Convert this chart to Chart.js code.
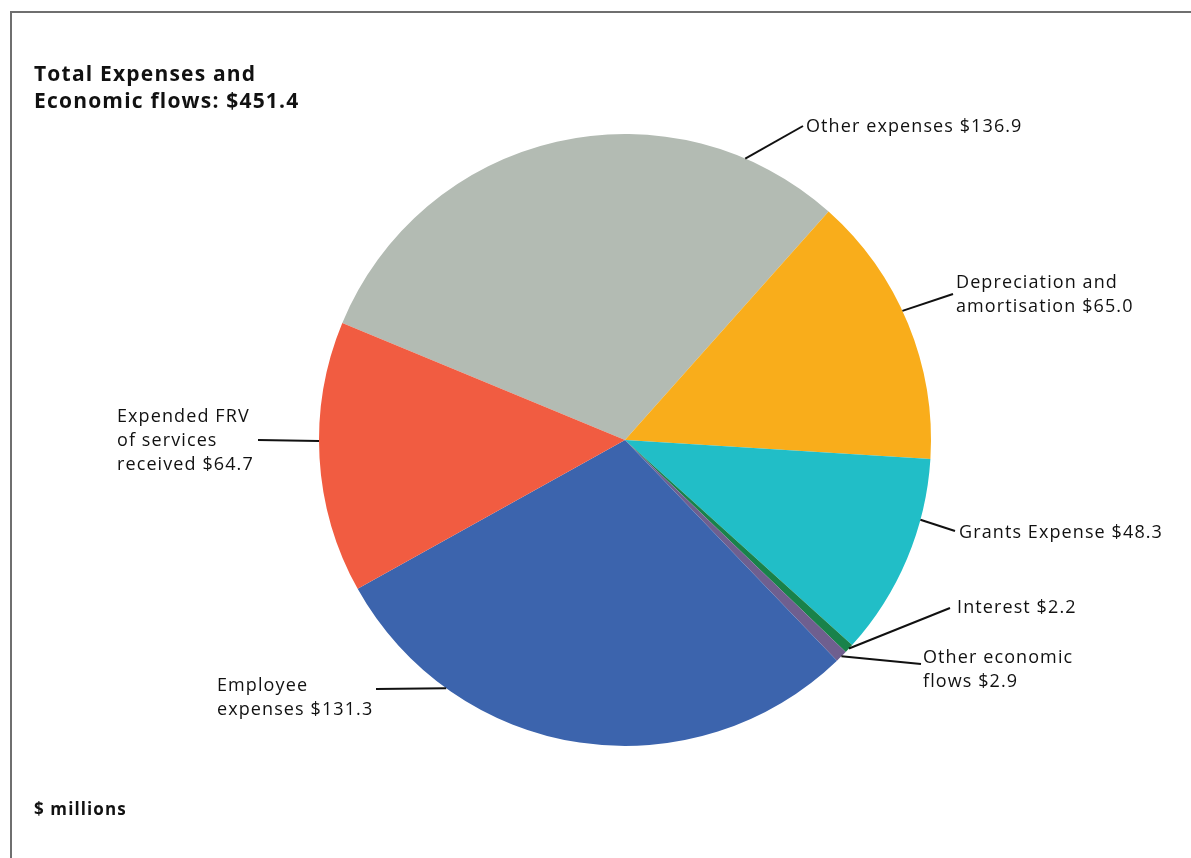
<!DOCTYPE html>
<html>
<head>
<meta charset="utf-8">
<script src="https://cdn.jsdelivr.net/npm/chart.js@4.4.1/dist/chart.umd.min.js"></script>
<style>
  html, body { margin: 0; padding: 0; background: #fff; }
  body { width: 1191px; height: 858px; position: relative; overflow: hidden; font-family: "Open Sans", sans-serif; color: #111; }
  #frame { position: absolute; left: 10px; top: 11px; right: -10px; bottom: -10px; border-top: 2px solid #6f6f6f; border-left: 2px solid #6f6f6f; }
  #graficaPastel { position: absolute; left: 0; top: 0; }
  .lbl { position: absolute; font-size: 18px; line-height: 24px; letter-spacing: 1.1px; white-space: nowrap; }
  .titulo { position: absolute; left: 34px; top: 60px; font-weight: 700; font-size: 21px; line-height: 27px; letter-spacing: 1.2px; }
  .unidades { position: absolute; left: 34px; top: 797px; font-weight: 700; font-size: 17px; letter-spacing: 1.1px; }
</style>
</head>
<body>
<div id="frame"></div>
<canvas id="graficaPastel" width="1191" height="858"></canvas>
<div class="titulo">Total Expenses and<br>Economic flows: $451.4</div>
<div class="unidades">$ millions</div>
<div id="etiquetas"></div>

<script>
// categorias y valores ($ millones), en el orden en que se dibujan
const categorias = [
  'Other expenses',
  'Depreciation and amortisation',
  'Grants Expense',
  'Interest',
  'Other economic flows',
  'Employee expenses',
  'Expended FRV of services received'
];
const valores = [136.9, 65.0, 48.3, 2.2, 2.9, 131.3, 64.7];
const colores = ['#b3bbb3', '#f9ad1b', '#21bec7', '#19824a', '#6f5f8f', '#3c64ad', '#f15c41'];

// como se parte cada etiqueta en lineas
const lineasEtiqueta = [
  ['Other expenses $'],
  ['Depreciation and', 'amortisation $'],
  ['Grants Expense $'],
  ['Interest $'],
  ['Other economic', 'flows $'],
  ['Employee', 'expenses $'],
  ['Expended FRV', 'of services', 'received $']
];

// posicion de cada etiqueta y de la linea guia
const guias = [
  { t: 0.83, fin: [803, 126], texto: [806, 113] },
  { t: 0.45, fin: [953, 294], texto: [956, 269] },
  { t: 0.30, fin: [955, 531], texto: [959, 519] },
  { t: 0.50, fin: [950, 608], texto: [957, 594] },
  { t: 0.50, fin: [921, 664], texto: [923, 644] },
  { t: 0.76, fin: [376, 689], texto: [217, 672] },
  { t: 0.56, fin: [258, 440], texto: [117, 403] }
];

// texto de las etiquetas
const contenedor = document.getElementById('etiquetas');
categorias.forEach((c, i) => {
  const div = document.createElement('div');
  div.className = 'lbl';
  const lineas = lineasEtiqueta[i].slice();
  lineas[lineas.length - 1] += valores[i].toFixed(1);
  div.innerHTML = lineas.join('<br>');
  div.style.left = guias[i].texto[0] + 'px';
  div.style.top = guias[i].texto[1] + 'px';
  contenedor.appendChild(div);
});

const lineasGuia = {
  id: 'lineasGuia',
  afterDatasetsDraw(chart) {
    const ctx = chart.ctx;
    const arcos = chart.getDatasetMeta(0).data;
    ctx.save();
    ctx.strokeStyle = '#111';
    ctx.lineWidth = 2;
    arcos.forEach((arco, i) => {
      const p = arco.getProps(['x', 'y', 'startAngle', 'endAngle', 'outerRadius'], true);
      const ang = p.startAngle + (p.endAngle - p.startAngle) * guias[i].t;
      const x0 = p.x + Math.cos(ang) * p.outerRadius;
      const y0 = p.y + Math.sin(ang) * p.outerRadius;
      ctx.beginPath();
      ctx.moveTo(x0, y0);
      ctx.lineTo(guias[i].fin[0], guias[i].fin[1]);
      ctx.stroke();
    });
    ctx.restore();
  }
};

new Chart(document.getElementById('graficaPastel'), {
  type: 'pie',
  data: {
    labels: categorias,
    datasets: [{
      data: valores,
      backgroundColor: colores,
      borderWidth: 0
    }]
  },
  options: {
    responsive: false,
    animation: false,
    rotation: 292.5,
    layout: { padding: { top: 134, bottom: 112, left: 319, right: 260 } },
    plugins: {
      legend: { display: false },
      tooltip: { enabled: false }
    }
  },
  plugins: [lineasGuia]
});
</script>
</body>
</html>
